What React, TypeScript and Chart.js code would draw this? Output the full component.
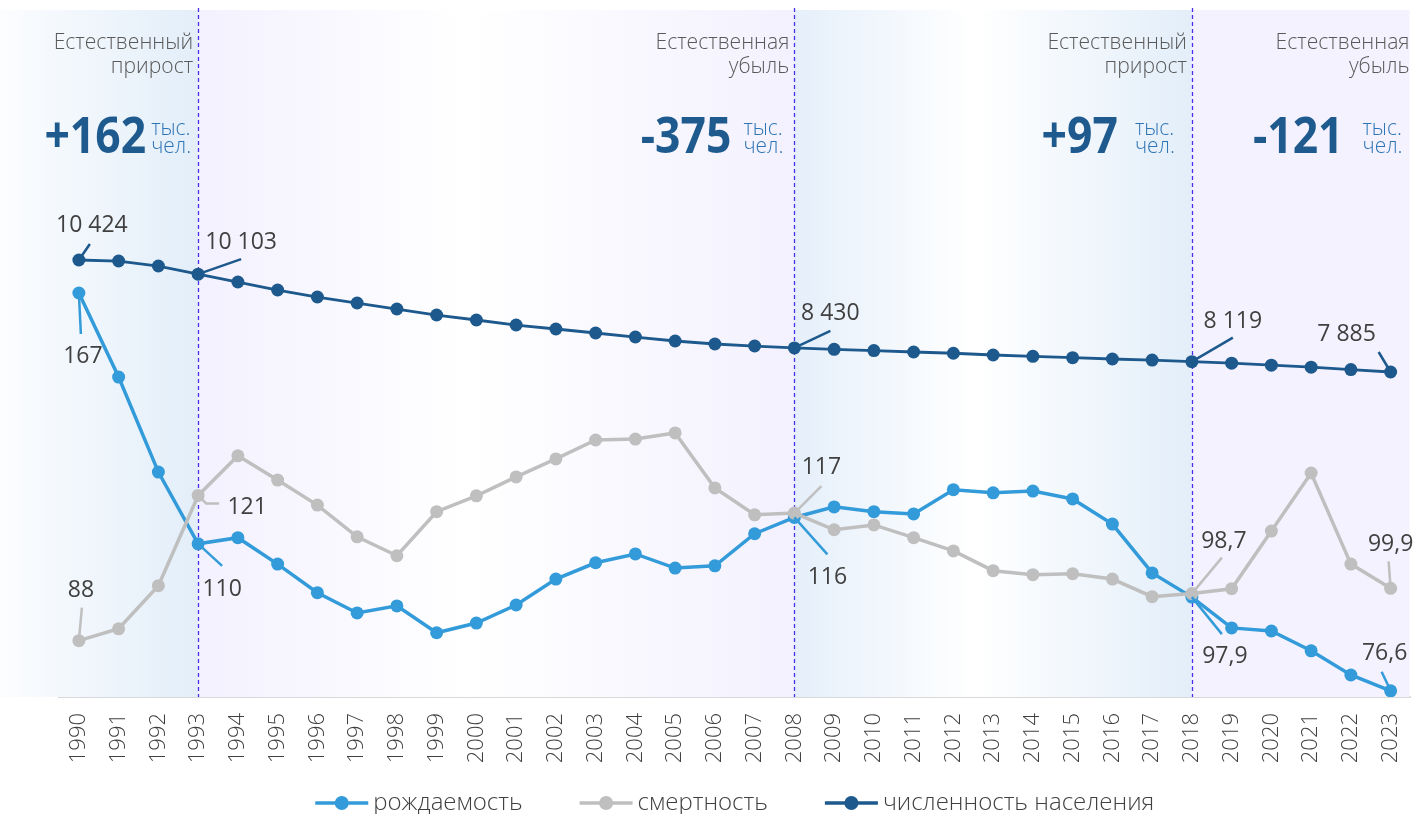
import { useEffect, useRef } from "react";
import { Chart, registerables } from "chart.js";

Chart.register(...registerables);

// ---------- data ----------
const years = [
  "1990", "1991", "1992", "1993", "1994", "1995", "1996", "1997", "1998", "1999",
  "2000", "2001", "2002", "2003", "2004", "2005", "2006", "2007", "2008", "2009",
  "2010", "2011", "2012", "2013", "2014", "2015", "2016", "2017", "2018", "2019",
  "2020", "2021", "2022", "2023",
];

const births = [
  167, 147.9, 126.3, 110, 111.4, 105.4, 98.9, 94.3, 95.9, 89.8,
  92.0, 96.1, 102.0, 105.7, 107.7, 104.5, 105.0, 112.3, 116, 118.4,
  117.3, 116.8, 122.3, 121.6, 122.0, 120.2, 114.5, 103.4, 97.9, 90.9,
  90.2, 85.7, 80.2, 76.6,
];

const deaths = [
  88, 90.7, 100.5, 121, 130.0, 124.5, 118.8, 111.6, 107.3, 117.3,
  120.9, 125.2, 129.3, 133.6, 133.8, 135.2, 122.7, 116.6, 117, 113.2,
  114.3, 111.4, 108.4, 103.9, 103.0, 103.2, 102.0, 98.0, 98.7, 99.8,
  112.9, 126.1, 105.4, 99.9,
];

const population = [
  10424, 10401, 10288, 10103, 9925, 9744, 9585, 9449, 9313, 9177,
  9064, 8950, 8860, 8769, 8678, 8588, 8520, 8474, 8430, 8400,
  8370, 8338, 8310, 8270, 8241, 8210, 8180, 8155, 8119, 8085,
  8040, 7995, 7940, 7885,
];

const seriesNames = ["рождаемость", "смертность", "численность населения"];

// period boundaries (last period ends at the right edge of the plot)
const periodEnds = ["1993", "2008", "2018", null];
const periodTitles = [
  ["Естественный", "прирост"],
  ["Естественная", "убыль"],
  ["Естественный", "прирост"],
  ["Естественная", "убыль"],
];
const periodValues = ["+162", "-375", "+97", "-121"];
const unitLines = ["тыс.", "чел."];

// years whose values are labelled
const labelledYears = ["1990", "1993", "2008", "2018", "2023"];

// ---------- styles ----------
const C_BIRTH = "#339bd9";
const C_DEATH = "#bfbfbf";
const C_POP = "#1d598c";
const C_DASH = "#4a2ff0";
const FONT = "'Open Sans', 'Noto Sans', sans-serif";

// header layout: gap between boundary and units, and between number and units
const unitGaps = [7, 11, 17, 7];
const numberGaps = [5, 12, 17, 19];

// callout geometry: label centre offset (dx, dy) and leader path relative to the point
type Callout = { s: number; y: string; dx: number; dy: number; path: number[][] };
const callouts: Callout[] = [
  { s: 2, y: "1990", dx: 13, dy: -36, path: [[11, -16]] },
  { s: 2, y: "1993", dx: 43, dy: -33, path: [[43, -15]] },
  { s: 2, y: "2008", dx: 36, dy: -36, path: [[36, -17]] },
  { s: 2, y: "2018", dx: 41, dy: -42, path: [[41, -24]] },
  { s: 2, y: "2023", dx: -44, dy: -39, path: [[-12, -20]] },
  { s: 0, y: "1990", dx: 4, dy: 62, path: [[2, 41]] },
  { s: 0, y: "1993", dx: 24, dy: 44, path: [[24, 22]] },
  { s: 0, y: "2008", dx: 33, dy: 59, path: [[33, 37]] },
  { s: 0, y: "2018", dx: 33, dy: 58, path: [[30, 37]] },
  { s: 0, y: "2023", dx: -6, dy: -39, path: [[-9, -19]] },
  { s: 1, y: "1990", dx: 2, dy: -52, path: [[3, -33]] },
  { s: 1, y: "1993", dx: 49, dy: 11, path: [[8, 8], [21, 8]] },
  { s: 1, y: "2008", dx: 27, dy: -47, path: [[27, -27]] },
  { s: 1, y: "2018", dx: 32, dy: -54, path: [[30, -36]] },
  { s: 1, y: "2023", dx: 0, dy: -45, path: [[-2, -27]] },
];

const fmtValue = (s: number, v: number) => {
  if (s === 2) return String(Math.round(v)).replace(/\B(?=(\d{3})+(?!\d))/g, " ");
  return Number.isInteger(v) ? String(v) : v.toFixed(1).replace(".", ",");
};

const seriesColors = [C_BIRTH, C_DEATH, C_POP];
const seriesData = [births, deaths, population];

const decorPlugin = {
  id: "decor",
  beforeDatasetsDraw(chart: any) {
    const { ctx, chartArea } = chart;
    const x = chart.scales.x;
    const top = chartArea.top;
    const bottom = chartArea.bottom;
    const bx = periodEnds.map((p) => (p ? x.getPixelForValue(years.indexOf(p)) : chartArea.right - 1));
    const starts = [0, bx[0], bx[1], bx[2]];
    ctx.save();
    // region 1: natural increase
    let g = ctx.createLinearGradient(starts[0], 0, bx[0], 0);
    g.addColorStop(0, "#fcfdff");
    g.addColorStop(0.25, "#f5f9fd");
    g.addColorStop(1, "#e3eef9");
    ctx.fillStyle = g;
    ctx.fillRect(starts[0], top, bx[0] - starts[0], bottom - top);
    // region 2: natural decrease
    g = ctx.createLinearGradient(starts[1], 0, bx[1], 0);
    g.addColorStop(0, "#f3f1fe");
    g.addColorStop(0.45, "#ffffff");
    g.addColorStop(1, "#f3f1fe");
    ctx.fillStyle = g;
    ctx.fillRect(starts[1], top, bx[1] - starts[1], bottom - top);
    // region 3: natural increase
    g = ctx.createLinearGradient(starts[2], 0, bx[2], 0);
    g.addColorStop(0, "#e5effa");
    g.addColorStop(0.45, "#ffffff");
    g.addColorStop(1, "#e3eef9");
    ctx.fillStyle = g;
    ctx.fillRect(starts[2], top, bx[2] - starts[2], bottom - top);
    // region 4: natural decrease
    ctx.fillStyle = "#f4f2fe";
    ctx.fillRect(starts[3], top, bx[3] - starts[3], bottom - top);

    // dashed boundaries
    ctx.strokeStyle = C_DASH;
    ctx.lineWidth = 1.3;
    ctx.setLineDash([4, 3]);
    for (let i = 0; i < 3; i++) {
      const px = Math.round(bx[i]) + 0.5;
      ctx.beginPath();
      ctx.moveTo(px, top - 2);
      ctx.lineTo(px, bottom);
      ctx.stroke();
    }
    ctx.setLineDash([]);

    // headers
    for (let i = 0; i < 4; i++) {
      const right = bx[i] - (i === 3 ? 0 : 5);
      ctx.fillStyle = "#595959";
      ctx.font = `300 22px ${FONT}`;
      ctx.textAlign = "right";
      ctx.textBaseline = "alphabetic";
      ctx.save();
      ctx.translate(right, 0);
      ctx.scale(0.96, 1);
      ctx.fillText(periodTitles[i][0], 0, 49);
      ctx.fillText(periodTitles[i][1], 0, 73);
      ctx.restore();

      // units
      ctx.font = `300 22px ${FONT}`;
      const uw = Math.max(...unitLines.map((u) => ctx.measureText(u).width)) * 0.95;
      const unitsRight = bx[i] - unitGaps[i];
      const unitsLeft = unitsRight - uw;
      ctx.fillStyle = "#2e75b6";
      ctx.textAlign = "left";
      ctx.save();
      ctx.translate(unitsLeft, 0);
      ctx.scale(0.95, 1);
      ctx.fillText(unitLines[0], 0, 135);
      ctx.fillText(unitLines[1], 0, 153);
      ctx.restore();

      // big number
      ctx.fillStyle = "#1f5a8e";
      ctx.font = `700 50px ${FONT}`;
      ctx.textAlign = "right";
      ctx.save();
      ctx.translate(unitsLeft - numberGaps[i], 0);
      ctx.scale(0.89, 1);
      ctx.fillText(periodValues[i], 0, 153);
      ctx.restore();
    }
    ctx.restore();
  },
  afterDatasetsDraw(chart: any) {
    const { ctx } = chart;
    ctx.save();
    for (const c of callouts) {
      const idx = years.indexOf(c.y);
      if (labelledYears.indexOf(c.y) < 0) continue;
      const meta = chart.getDatasetMeta(c.s);
      const el = meta.data[idx];
      const px = el.x;
      const py = el.y;
      ctx.strokeStyle = seriesColors[c.s];
      ctx.lineWidth = 2.5;
      ctx.beginPath();
      ctx.moveTo(px, py);
      for (const [lx, ly] of c.path) ctx.lineTo(px + lx, py + ly);
      ctx.stroke();
      ctx.fillStyle = "#404040";
      ctx.font = `400 23px ${FONT}`;
      ctx.textAlign = "center";
      ctx.textBaseline = "alphabetic";
      ctx.fillText(fmtValue(c.s, seriesData[c.s][idx]), px + c.dx, py + c.dy + 8);
    }
    ctx.restore();
  },
  afterDraw(chart: any) {
    const { ctx, chartArea } = chart;
    ctx.save();
    ctx.font = `300 24px ${FONT}`;
    const markerW = 53;
    const gapText = 5;
    const gapItem = 57;
    const widths = seriesNames.map((n) => ctx.measureText(n).width);
    const total = widths.reduce((a, w) => a + markerW + gapText + w, 0) + gapItem * (seriesNames.length - 1);
    let x0 = (chartArea.left + chartArea.right) / 2 - total / 2;
    const cy = 803;
    seriesNames.forEach((n, i) => {
      ctx.strokeStyle = seriesColors[i];
      ctx.lineWidth = 3.5;
      ctx.beginPath();
      ctx.moveTo(x0, cy);
      ctx.lineTo(x0 + markerW, cy);
      ctx.stroke();
      ctx.fillStyle = seriesColors[i];
      ctx.beginPath();
      ctx.arc(x0 + markerW / 2, cy, 7, 0, Math.PI * 2);
      ctx.fill();
      ctx.fillStyle = "#404040";
      ctx.textAlign = "left";
      ctx.textBaseline = "alphabetic";
      ctx.fillText(n, x0 + markerW + gapText, cy + 7);
      x0 += markerW + gapText + widths[i] + gapItem;
    });
    ctx.restore();
  },
};

export default function App() {
  const ref = useRef<HTMLCanvasElement | null>(null);
  useEffect(() => {
    if (!ref.current) return;
    const chart = new Chart(ref.current, {
      type: "line",
      data: {
        labels: years,
        datasets: [
          {
            label: seriesNames[0],
            data: births,
            yAxisID: "y",
            borderColor: C_BIRTH,
            backgroundColor: C_BIRTH,
            borderWidth: 3.5,
            pointRadius: 6.5,
            pointBorderWidth: 0,
            pointHoverRadius: 6.5,
            tension: 0,
            order: 2,
          },
          {
            label: seriesNames[1],
            data: deaths,
            yAxisID: "y",
            borderColor: C_DEATH,
            backgroundColor: C_DEATH,
            borderWidth: 3.5,
            pointRadius: 6.5,
            pointBorderWidth: 0,
            pointHoverRadius: 6.5,
            tension: 0,
            order: 1,
          },
          {
            label: seriesNames[2],
            data: population,
            yAxisID: "y2",
            borderColor: C_POP,
            backgroundColor: C_POP,
            borderWidth: 2.8,
            pointRadius: 6.5,
            pointBorderWidth: 0,
            pointHoverRadius: 6.5,
            tension: 0,
            order: 0,
          },
        ],
      },
      options: {
        animation: false,
        responsive: false,
        events: [],
        layout: { padding: { left: 59, right: 5, top: 10, bottom: 37 } },
        plugins: {
          legend: { display: false },
          tooltip: { enabled: false },
        },
        scales: {
          x: {
            offset: true,
            grid: { display: false, drawTicks: false },
            border: { display: true, color: "#d9d9d9", width: 2 },
            ticks: {
              minRotation: 90,
              maxRotation: 90,
              autoSkip: false,
              padding: 16,
              color: "#404040",
              font: { family: FONT, size: 22, weight: "300" as any },
            },
            afterFit: (scale: any) => {
              scale.height = 80;
              scale.paddingLeft = 0;
              scale.paddingRight = 0;
            },
          },
          y: { display: false, min: 75.2, max: 231.3 },
          y2: { display: false, position: "right", min: 517, max: 16092 },
        },
      },
      plugins: [decorPlugin],
    });
    return () => chart.destroy();
  }, []);
  return (
    <div style={{ position: "fixed", left: 0, top: 0, width: 1417, height: 814, background: "#fff" }}>
      <canvas ref={ref} width={1417} height={814} style={{ display: "block" }} />
    </div>
  );
}
